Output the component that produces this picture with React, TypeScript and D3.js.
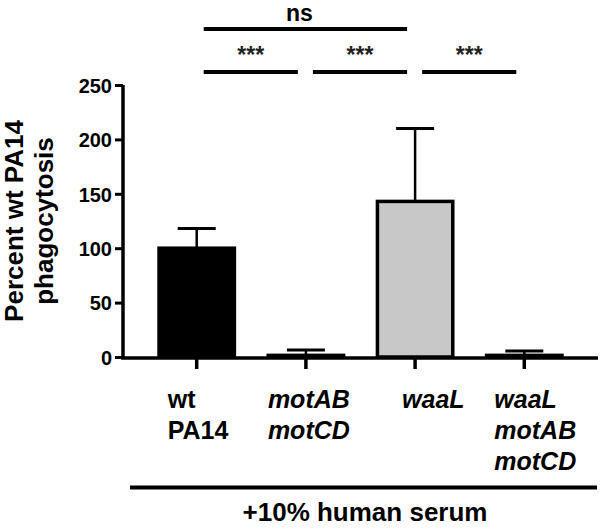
import React, { useEffect, useRef } from 'react';
import * as d3 from 'd3';

// strains on the x axis, each label split into lines
const strains = ['wt PA14', 'motAB motCD', 'waaL', 'waaL motAB motCD'];
const strainLines = [['wt', 'PA14'], ['motAB', 'motCD'], ['waaL'], ['waaL', 'motAB', 'motCD']];
const italicLabel = [false, true, true, true];

// percent of wt PA14 phagocytosis (mean, SD)
const means = [100, 1.5, 143, 1.5];
const errors = [18, 5, 67, 4];

const barFills = ['#000000', '#ffffff', '#c8c8c8', '#ffffff'];
const yTicks = [0, 50, 100, 150, 200, 250];

// significance brackets: [from, to, label, row]
const comparisons: [number, number, string, number][] = [
  [0, 2, 'ns', 0],
  [0, 1, '***', 1],
  [1, 2, '***', 1],
  [2, 3, '***', 1],
];

const FONT = '"Liberation Sans", Arial, sans-serif';

const App = () => {
  const ref = useRef<SVGSVGElement>(null);

  useEffect(() => {
    const width = 600;
    const height = 528;
    const svg = d3.select(ref.current);
    svg.selectAll('*').remove();
    svg.attr('width', width).attr('height', height);

    const y = d3.scaleLinear().domain([0, 250]).range([357, 85]);
    const x = d3.scaleBand().domain(strains).range([123, 598]).paddingInner(0.31).paddingOuter(0.33);
    const cx = (i: number) => (x(strains[i]) as number) + x.bandwidth() / 2;

    const g = svg.append('g');

    // bars
    g.selectAll('rect.bar')
      .data(means)
      .enter()
      .append('rect')
      .attr('class', 'bar')
      .attr('x', (d, i) => x(strains[i]) as number)
      .attr('y', (d) => y(d))
      .attr('width', x.bandwidth())
      .attr('height', (d) => y(0) - y(d))
      .style('fill', (d, i) => barFills[i])
      .style('stroke', '#000')
      .style('stroke-width', 3.5);

    // error bars (upper only)
    const capW = 38;
    means.forEach((m, i) => {
      const c = cx(i);
      g.append('line')
        .attr('x1', c).attr('x2', c)
        .attr('y1', y(m)).attr('y2', y(m + errors[i]))
        .style('stroke', '#000').style('stroke-width', 2.5);
      g.append('line')
        .attr('x1', c - capW / 2).attr('x2', c + capW / 2)
        .attr('y1', y(m + errors[i])).attr('y2', y(m + errors[i]))
        .style('stroke', '#000').style('stroke-width', 3);
    });

    // y axis
    const yAxis = g.append('g')
      .attr('transform', 'translate(123,0)')
      .call(d3.axisLeft(y).tickValues(yTicks).tickSize(8).tickPadding(3));
    yAxis.select('.domain').attr('d', `M0,${y(250)}V${y(0) + 1.5}`).style('stroke-width', 3.5);
    yAxis.selectAll('.tick line').style('stroke-width', 3);
    yAxis.selectAll('.tick text')
      .style('font-family', FONT).style('font-size', '20px').style('font-weight', 'bold')
      .attr('dy', '0.36em');

    // x axis
    const xAxis = g.append('g')
      .attr('transform', `translate(0,${y(0) + 1})`)
      .call(d3.axisBottom(x).tickSize(11).tickFormat(() => ''));
    xAxis.select('.domain').attr('d', `M121,0H598`).style('stroke-width', 3.5);
    xAxis.selectAll('.tick line').style('stroke-width', 3.5);

    // category labels
    const labelDx = [-29, -38, -13, -30];
    strainLines.forEach((lines, i) => {
      const t = g.append('text')
        .attr('x', cx(i) + labelDx[i])
        .attr('y', 408)
        .style('font-family', FONT).style('font-size', '25px').style('font-weight', 'bold')
        .style('font-style', italicLabel[i] ? 'italic' : 'normal');
      lines.forEach((l, j) => {
        t.append('tspan').attr('x', cx(i) + labelDx[i]).attr('dy', j === 0 ? 0 : 31).text(l);
      });
    });

    // group line and label
    g.append('line').attr('x1', 130).attr('x2', 597).attr('y1', 487.5).attr('y2', 487.5)
      .style('stroke', '#000').style('stroke-width', 4);
    g.append('text').attr('x', 365).attr('y', 521).attr('text-anchor', 'middle')
      .style('font-family', FONT).style('font-size', '26px').style('font-weight', 'bold')
      .text('+10% human serum');

    // y title
    g.append('text')
      .attr('transform', 'translate(23,221) rotate(-90)')
      .attr('text-anchor', 'middle')
      .style('font-family', FONT).style('font-size', '26px').style('font-weight', 'bold')
      .selectAll('tspan')
      .data(['Percent wt PA14', 'phagocytosis'])
      .enter()
      .append('tspan')
      .attr('x', 0)
      .attr('dy', (d, i) => (i === 0 ? 0 : 30))
      .text((d) => d);

    // significance brackets
    const rowY = [29, 72];
    const rowTextY = [21, 63];
    comparisons.forEach(([a, b, label, row]) => {
      const x1 = cx(a) + 7;
      const x2 = cx(b) - 8;
      g.append('line').attr('x1', x1).attr('x2', x2).attr('y1', rowY[row]).attr('y2', rowY[row])
        .style('stroke', '#000').style('stroke-width', 4);
      g.append('text')
        .attr('x', (x1 + x2) / 2 - (row === 0 ? 6 : 0))
        .attr('y', rowTextY[row])
        .attr('text-anchor', 'middle')
        .style('font-family', FONT)
        .style('font-size', row === 0 ? '23px' : '23px')
        .style('font-weight', 'bold')
        .style('fill', row === 0 ? '#000' : '#222')
        .text(label);
    });
  });

  return (
    <div id="chartArea">
      <svg ref={ref} style={{ position: 'absolute', left: 0, top: 0, background: '#fff' }}></svg>
    </div>
  );
};

export default App;
